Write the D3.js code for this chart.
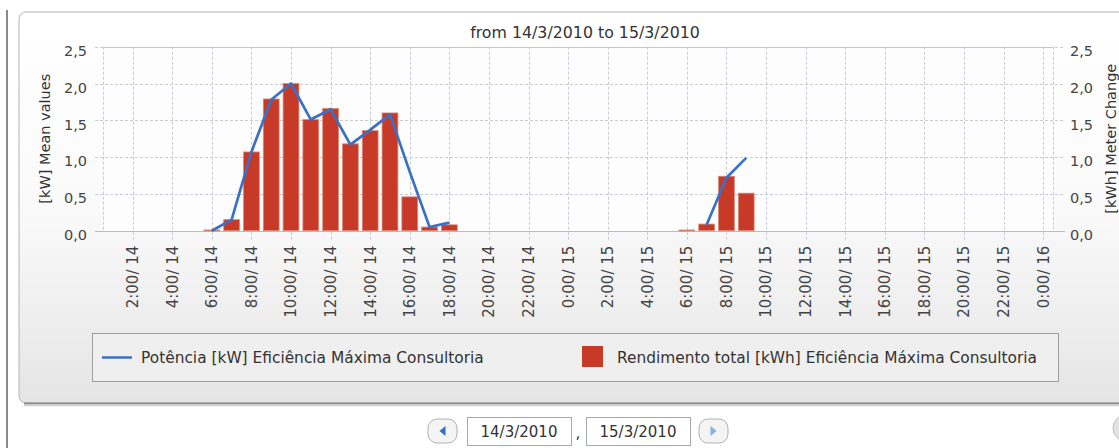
<!DOCTYPE html>
<html><head><meta charset="utf-8">
<script src="https://cdn.jsdelivr.net/npm/d3@7"></script>
<style>
body{margin:0;background:#fff;}
svg{display:block;font-family:"DejaVu Sans",sans-serif;}
</style>
</head><body><svg id="c" width="1119" height="448"></svg>
<script>
const categories = [
  "1:00/ 14","2:00/ 14","3:00/ 14","4:00/ 14","5:00/ 14","6:00/ 14","7:00/ 14","8:00/ 14",
  "9:00/ 14","10:00/ 14","11:00/ 14","12:00/ 14","13:00/ 14","14:00/ 14","15:00/ 14","16:00/ 14",
  "17:00/ 14","18:00/ 14","19:00/ 14","20:00/ 14","21:00/ 14","22:00/ 14","23:00/ 14","0:00/ 15",
  "1:00/ 15","2:00/ 15","3:00/ 15","4:00/ 15","5:00/ 15","6:00/ 15","7:00/ 15","8:00/ 15",
  "9:00/ 15","10:00/ 15","11:00/ 15","12:00/ 15","13:00/ 15","14:00/ 15","15:00/ 15","16:00/ 15",
  "17:00/ 15","18:00/ 15","19:00/ 15","20:00/ 15","21:00/ 15","22:00/ 15","23:00/ 15","0:00/ 16"
];
const tickLabels = [
  "2:00/ 14","4:00/ 14","6:00/ 14","8:00/ 14","10:00/ 14","12:00/ 14","14:00/ 14","16:00/ 14",
  "18:00/ 14","20:00/ 14","22:00/ 14","0:00/ 15","2:00/ 15","4:00/ 15","6:00/ 15","8:00/ 15",
  "10:00/ 15","12:00/ 15","14:00/ 15","16:00/ 15","18:00/ 15","20:00/ 15","22:00/ 15","0:00/ 16"
];
// Rendimento total [kWh] (bars)
const rendimento = [
  0,0,0,0,0,0.01,0.15,1.07, 1.79,2.00,1.51,1.66,1.18,1.36,1.60,0.46,
  0.05,0.08,0,0,0,0,0,0, 0,0,0,0,0,0.01,0.09,0.74, 0.51,0,0,0,0,0,0,0,
  0,0,0,0,0,0,0,0
];
// Potência [kW] (line), null = no reading
const potencia = [
  null,null,null,null,null,0.00,0.15,1.07, 1.78,2.00,1.51,1.65,1.17,1.37,1.58,0.80,
  0.05,0.11,null,null,null,null,null,null, null,null,null,null,null,null,0.08,0.72,
  0.99,null,null,null,null,null,null,null, null,null,null,null,null,null,null,null
];
const yTicks = [0,0.5,1.0,1.5,2.0,2.5];
const titleText = "from 14/3/2010 to 15/3/2010";
const leftTitle = "[kW] Mean values";
const rightTitle = "[kWh] Meter Change";
const legendLine = "Potência [kW] Eficiência Máxima Consultoria";
const legendBar = "Rendimento total [kWh] Eficiência Máxima Consultoria";
const dateFrom = "14/3/2010", dateTo = "15/3/2010";

const svg = d3.select("#c");
const L = 103, R = 1053, T = 46.7, B = 230.7;
const lineColor = "#3a70c6", barColor = "#c73a28", gridColor = "#c9ccd4";

const defs = svg.append("defs");
const g1 = defs.append("linearGradient").attr("id","pg").attr("x1",0).attr("y1",0).attr("x2",0).attr("y2",1);
g1.append("stop").attr("offset","0%").attr("stop-color","#ffffff");
g1.append("stop").attr("offset","50%").attr("stop-color","#fafafa");
g1.append("stop").attr("offset","100%").attr("stop-color","#e5e5e5");

svg.append("line").attr("x1",7).attr("x2",7).attr("y1",10).attr("y2",448).attr("stroke","#8a8a8a").attr("stroke-width",2);
svg.append("rect").attr("x",19).attr("y",12).attr("width",1130).attr("height",391).attr("rx",7)
  .attr("fill","url(#pg)").attr("stroke","#b4b4b4").attr("stroke-width",1);
svg.append("line").attr("x1",24).attr("x2",1119).attr("y1",403.5).attr("y2",403.5).attr("stroke","#8c8c8c").attr("stroke-width",2);
svg.append("line").attr("x1",24).attr("x2",1119).attr("y1",405.5).attr("y2",405.5).attr("stroke","#d4d4d4").attr("stroke-width",1.5);

svg.append("rect").attr("x",L).attr("y",T).attr("width",R-L).attr("height",B-T).attr("fill","#fdfdfd");

const x = d3.scaleBand().domain(categories).range([L,R]).paddingInner(0.2).paddingOuter(0.1);
const bw = x.bandwidth();
const cx = c => x(c) + bw/2;
const y = d3.scaleLinear().domain([0,2.5]).range([B,T]);
const fmt = d => d3.format(".1f")(d).replace(".", ",");

const grid = svg.append("g").attr("stroke",gridColor).attr("stroke-width",1).attr("stroke-dasharray","3,2");
grid.selectAll(".gx").data(tickLabels).join("line")
  .attr("x1",d=>Math.round(cx(d))+0.5).attr("x2",d=>Math.round(cx(d))+0.5).attr("y1",T).attr("y2",B+9);
grid.selectAll(".gy").data(yTicks.slice(1)).join("line")
  .attr("x1",L-8).attr("x2",R+12).attr("y1",d=>Math.round(y(d))+0.5).attr("y2",d=>Math.round(y(d))+0.5);
svg.append("line").attr("x1",L+0.5).attr("x2",L+0.5).attr("y1",T).attr("y2",B).attr("stroke",gridColor).attr("stroke-dasharray","3,2");
svg.append("line").attr("x1",R+0.5).attr("x2",R+0.5).attr("y1",T).attr("y2",B).attr("stroke",gridColor).attr("stroke-dasharray","3,2");
svg.append("line").attr("x1",L).attr("x2",R).attr("y1",Math.round(T)+0.5).attr("y2",Math.round(T)+0.5).attr("stroke","#c4c8d0");
svg.append("line").attr("x1",L-8).attr("x2",R+12).attr("y1",Math.round(B)+0.5).attr("y2",Math.round(B)+0.5).attr("stroke","#b8bcc6");

const axL = svg.append("g").attr("transform",`translate(${L},0)`)
  .call(d3.axisLeft(y).tickValues(yTicks).tickFormat(fmt).tickSize(0).tickPadding(16));
const axR = svg.append("g").attr("transform",`translate(${R},0)`)
  .call(d3.axisRight(y).tickValues(yTicks).tickFormat(fmt).tickSize(0).tickPadding(17));
[axL,axR].forEach(a=>{
  a.select(".domain").remove();
  a.selectAll("text").attr("font-size","14.5px").attr("fill","#444").attr("font-family","DejaVu Sans").attr("dy","0.6em");
});
const axB = svg.append("g").attr("transform",`translate(0,${B})`)
  .call(d3.axisBottom(x).tickValues(tickLabels).tickSize(0));
axB.select(".domain").remove();
axB.selectAll("text").attr("font-size","15px").attr("fill","#444").attr("font-family","DejaVu Sans")
  .attr("transform","rotate(-90)").attr("text-anchor","end").attr("x",-15).attr("y",0).attr("dy","0.36em");

svg.append("g").selectAll("rect").data(rendimento.map((v,i)=>({c:categories[i],v}))).join("rect")
  .filter(d=>d.v>0)
  .attr("x",d=>x(d.c)).attr("width",bw)
  .attr("y",d=>y(d.v)).attr("height",d=>Math.max(1,B-y(d.v)))
  .attr("fill",barColor).attr("stroke","#de8a78").attr("stroke-width",0.8);

const ln = d3.line().defined(d=>d.v!=null).x(d=>cx(d.c)).y(d=>y(d.v));
svg.append("path").datum(potencia.map((v,i)=>({c:categories[i],v})))
  .attr("d",ln).attr("fill","none").attr("stroke",lineColor).attr("stroke-width",2.7).attr("stroke-linejoin","round");

svg.append("text").attr("x",585).attr("y",38).attr("text-anchor","middle").attr("font-size","15.8px").attr("fill","#333").text(titleText);
svg.append("text").attr("transform",`translate(45,${(T+B)/2}) rotate(-90)`).attr("text-anchor","middle").attr("dy","0.35em")
  .attr("font-size","14.5px").attr("fill","#333").text(leftTitle);
svg.append("text").attr("transform",`translate(1111,${(T+B)/2}) rotate(-90)`).attr("text-anchor","middle").attr("dy","0.35em")
  .attr("font-size","14.5px").attr("fill","#333").text(rightTitle);

svg.append("rect").attr("x",92.5).attr("y",333.5).attr("width",966).attr("height",48).attr("fill","#efefef").attr("stroke","#9e9e9e");
svg.append("line").attr("x1",102).attr("x2",132).attr("y1",357.5).attr("y2",357.5).attr("stroke",lineColor).attr("stroke-width",2.5);
svg.append("text").attr("x",141).attr("y",357.5).attr("dy","0.35em").attr("font-size","15.4px").attr("fill","#333").text(legendLine);
svg.append("rect").attr("x",582).attr("y",346).attr("width",21).attr("height",21).attr("fill",barColor);
svg.append("text").attr("x",617).attr("y",357.5).attr("dy","0.35em").attr("font-size","15.4px").attr("fill","#333").text(legendBar);

function button(x0, dir){
  svg.append("rect").attr("x",x0).attr("y",419).attr("width",29).attr("height",24).attr("rx",9)
    .attr("fill","#f4f4f4").attr("stroke","#b0b0b0");
  const mx = x0+14.5, my = 431;
  const pts = dir<0 ? [[mx+3,my-5],[mx+3,my+5],[mx-3,my]] : [[mx-3,my-5],[mx-3,my+5],[mx+3,my]];
  svg.append("polygon").attr("points",pts.map(p=>p.join(",")).join(" ")).attr("fill",dir<0?"#2f6fc0":"#7fb0e6");
}
button(428,-1);
svg.append("rect").attr("x",467.5).attr("y",417.5).attr("width",104).attr("height",28).attr("fill","#fff").attr("stroke","#a8a8a8");
svg.append("text").attr("x",519).attr("y",431.5).attr("dy","0.35em").attr("text-anchor","middle").attr("font-size","15px").attr("fill","#333").text(dateFrom);
svg.append("text").attr("x",578).attr("y",438).attr("text-anchor","middle").attr("font-size","15px").attr("fill","#333").text(",");
svg.append("rect").attr("x",586.5).attr("y",417.5).attr("width",104).attr("height",28).attr("fill","#fff").attr("stroke","#a8a8a8");
svg.append("text").attr("x",638).attr("y",431.5).attr("dy","0.35em").attr("text-anchor","middle").attr("font-size","15px").attr("fill","#333").text(dateTo);
button(699,1);
svg.append("circle").attr("cx",1126).attr("cy",428).attr("r",13).attr("fill","#e2e2e2").attr("stroke","#c0c0c0");
</script>
</body></html>
